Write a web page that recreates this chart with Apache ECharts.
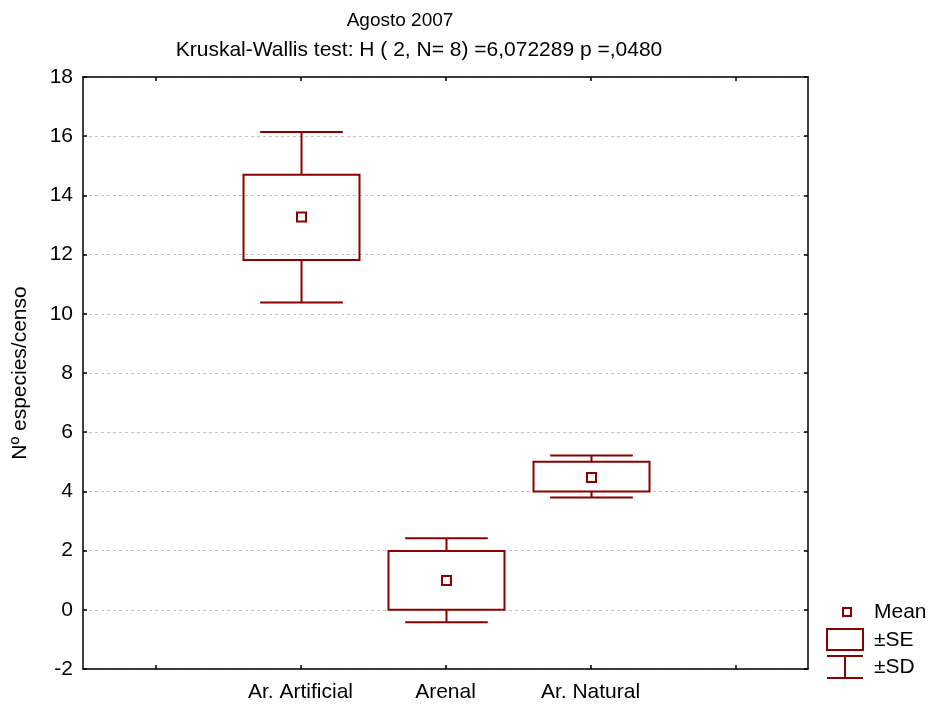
<!DOCTYPE html>
<html>
<head>
<meta charset="utf-8">
<script src="https://cdn.jsdelivr.net/npm/echarts@6/dist/echarts.min.js"></script>
<style>
  html, body { margin: 0; padding: 0; background: #fff; }
  #main { width: 931px; height: 706px; }
</style>
</head>
<body>
<div id="main"></div>
<script>
  // categorias (con huecos a cada lado como en el original)
  const categories = ['', 'Ar. Artificial', 'Arenal', 'Ar. Natural', '']
  const groups = ['Ar. Artificial', 'Arenal', 'Ar. Natural']
  const means = [13.27, 0.99, 4.47]
  const seLow = [11.82, 0.0, 4.0]
  const seHigh = [14.7, 1.99, 5.0]
  const sdLow = [10.38, -0.42, 3.79]
  const sdHigh = [16.14, 2.42, 5.21]
  const yTicks = { min: -2, max: 18, interval: 2 }

  const RED = '#8b0000'
  const FONT = 'Liberation Sans, Arial, sans-serif'
  const FS = 21

  const boxData = groups.map((g, i) => [g, sdLow[i], seLow[i], seHigh[i], sdHigh[i]])
  const meanData = groups.map((g, i) => [g, means[i]])

  const renderBox = (params, api) => {
    const cat = api.value(0)
    const band = api.size([1, 0])[0]
    const x = api.coord([cat, 0])[0] + 1
    const ySdLo = api.coord([cat, api.value(1)])[1]
    const ySeLo = api.coord([cat, api.value(2)])[1]
    const ySeHi = api.coord([cat, api.value(3)])[1]
    const ySdHi = api.coord([cat, api.value(4)])[1]
    const bw = band * 0.8
    const cw = band * 0.57
    const st = { stroke: RED, lineWidth: 2, fill: 'none' }
    return {
      type: 'group',
      children: [
        { type: 'line', shape: { x1: x, y1: ySeHi, x2: x, y2: ySdHi }, style: st },
        { type: 'line', shape: { x1: x - cw / 2, y1: ySdHi, x2: x + cw / 2, y2: ySdHi }, style: st },
        { type: 'line', shape: { x1: x, y1: ySeLo, x2: x, y2: ySdLo }, style: st },
        { type: 'line', shape: { x1: x - cw / 2, y1: ySdLo, x2: x + cw / 2, y2: ySdLo }, style: st },
        {
          type: 'rect',
          shape: { x: x - bw / 2, y: ySeHi, width: bw, height: ySeLo - ySeHi },
          style: st,
        },
      ],
    }
  }

  const tickStyle = { show: true, inside: true, length: 4, lineStyle: { color: '#000', width: 1.5 } }
  const lineStyle = { show: true, onZero: false, lineStyle: { color: '#000', width: 1.5 } }

  const option = {
    backgroundColor: '#fff',
    animation: false,
    textStyle: { fontFamily: FONT },
    title: [
      {
        text: 'Agosto 2007',
        left: 395,
        top: 6,
        textAlign: 'center',
        textStyle: { fontFamily: FONT, fontSize: 19, fontWeight: 'normal', color: '#000' },
      },
      {
        text: 'Kruskal-Wallis test: H ( 2, N= 8) =6,072289 p =,0480',
        left: 414,
        top: 35,
        textAlign: 'center',
        textStyle: { fontFamily: FONT, fontSize: FS, fontWeight: 'normal', color: '#000' },
      },
    ],
    grid: { left: 83, right: 123, top: 77, bottom: 37 },
    xAxis: [
      {
        type: 'category',
        data: categories,
        position: 'bottom',
        axisLine: lineStyle,
        axisTick: { ...tickStyle, alignWithLabel: true },
        axisLabel: { color: '#000', fontSize: FS, fontFamily: FONT, margin: 13, interval: 0 },
        splitLine: { show: false },
      },
      {
        type: 'category',
        data: categories,
        position: 'top',
        axisLine: lineStyle,
        axisTick: { ...tickStyle, alignWithLabel: true },
        axisLabel: { show: false },
        splitLine: { show: false },
      },
    ],
    yAxis: [
      {
        type: 'value',
        ...yTicks,
        position: 'left',
        name: 'Nº especies/censo',
        nameLocation: 'middle',
        nameGap: 52,
        nameTextStyle: { color: '#000', fontSize: FS, fontFamily: FONT },
        axisLine: lineStyle,
        axisTick: tickStyle,
        axisLabel: { color: '#000', fontSize: FS, fontFamily: FONT, margin: 10 },
        splitLine: { show: true, lineStyle: { color: '#c4c4c4', type: [3, 3], width: 1 } },
      },
      {
        type: 'value',
        ...yTicks,
        position: 'right',
        axisLine: lineStyle,
        axisTick: tickStyle,
        axisLabel: { show: false },
        splitLine: { show: false },
      },
    ],
    series: [
      {
        name: '±SE / ±SD',
        type: 'custom',
        renderItem: renderBox,
        encode: { x: 0, y: [1, 2, 3, 4] },
        data: boxData,
        z: 3,
      },
      {
        name: 'Mean',
        type: 'scatter',
        symbol: 'rect',
        symbolSize: 9,
        symbolOffset: [1, 0],
        itemStyle: { color: '#fff', borderColor: RED, borderWidth: 2, opacity: 1 },
        data: meanData,
        z: 4,
      },
    ],
    graphic: [
      { type: 'rect', shape: { x: 843, y: 608, width: 8, height: 8 }, style: { fill: '#fff', stroke: RED, lineWidth: 2 } },
      { type: 'text', x: 874, y: 612, style: { text: 'Mean', font: `${FS}px ${FONT}`, fill: '#000', verticalAlign: 'middle' } },
      { type: 'rect', shape: { x: 827, y: 629, width: 36, height: 21 }, style: { fill: '#fff', stroke: RED, lineWidth: 2 } },
      { type: 'text', x: 874, y: 640, style: { text: '±SE', font: `${FS}px ${FONT}`, fill: '#000', verticalAlign: 'middle' } },
      { type: 'line', shape: { x1: 827, y1: 656, x2: 863, y2: 656 }, style: { stroke: RED, lineWidth: 2 } },
      { type: 'line', shape: { x1: 827, y1: 678, x2: 863, y2: 678 }, style: { stroke: RED, lineWidth: 2 } },
      { type: 'line', shape: { x1: 845, y1: 656, x2: 845, y2: 678 }, style: { stroke: RED, lineWidth: 2 } },
      { type: 'text', x: 874, y: 667, style: { text: '±SD', font: `${FS}px ${FONT}`, fill: '#000', verticalAlign: 'middle' } },
    ],
  }

  const chart = echarts.init(document.getElementById('main'))
  chart.setOption(option)
</script>
</body>
</html>
